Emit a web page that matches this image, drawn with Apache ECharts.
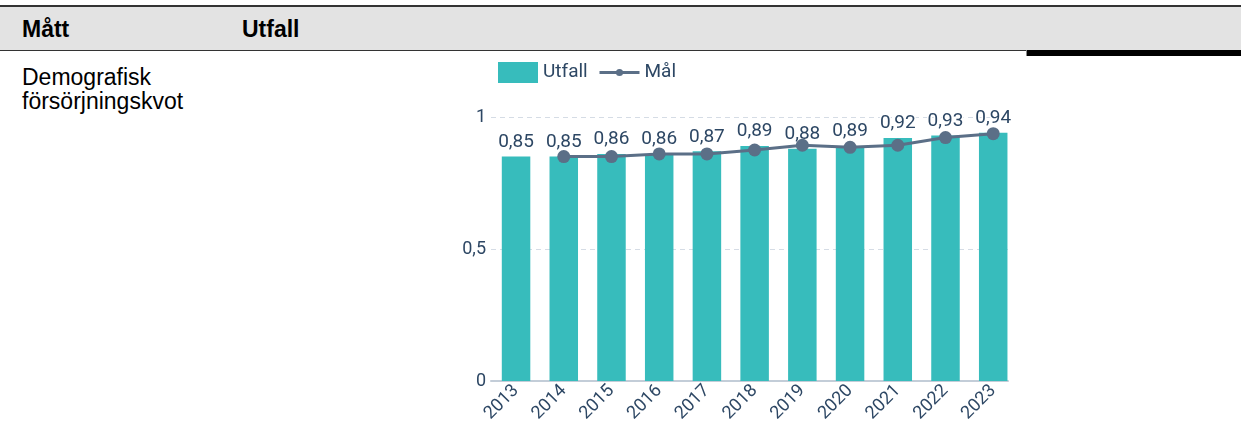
<!DOCTYPE html>
<html lang="sv">
<head>
<meta charset="utf-8">
<title>Demografisk försörjningskvot</title>
<script src="https://cdn.jsdelivr.net/npm/echarts@6/dist/echarts.min.js"></script>
<style>
  html, body { margin: 0; padding: 0; background: #fff; }
  body { width: 1241px; height: 442px; position: relative; overflow: hidden;
         font-family: Arial, "Liberation Sans", sans-serif; color: #000; }
  .abs { position: absolute; }
  .band { top: 7px; left: 0; width: 1241px; height: 43px; background: #e3e3e3; }
  .rule-top { top: 5px; left: 0; width: 1241px; height: 2px; background: #333; }
  .rule-bottom { top: 50px; left: 0; width: 1026px; height: 1px; background: #333; }
  .rule-thick { top: 50px; left: 1027px; width: 214px; height: 6px; background: #000; }
  .rule-tick { top: 50px; left: 1026px; width: 1px; height: 6px; background: #888; }
  .th { top: 17px; font-size: 23px; line-height: 24px; font-weight: bold; }
  .td { top: 65px; left: 22px; font-size: 23px; line-height: 24px; }
  #chart { position: absolute; left: 0; top: 0; width: 1241px; height: 442px; }
</style>
</head>
<body>
<div class="abs band"></div>
<div class="abs rule-top"></div>
<div class="abs rule-bottom"></div>
<div class="abs rule-thick"></div>
<div class="abs rule-tick"></div>
<div class="abs th" style="left:22px">Mått</div>
<div class="abs th" style="left:242px">Utfall</div>
<div class="abs td">Demografisk<br>försörjningskvot</div>
<div id="chart"></div>
<script>
// Years on the x axis
const years = [2013, 2014, 2015, 2016, 2017, 2018, 2019, 2020, 2021, 2022, 2023];
// Outcome per year (bars, labelled)
const utfall = [0.85, 0.85, 0.86, 0.86, 0.87, 0.89, 0.88, 0.89, 0.92, 0.93, 0.94];
// Target per year (line); no target for 2013
const mal = [null, 0.85, 0.85, 0.86, 0.86, 0.875, 0.893, 0.885, 0.893, 0.922, 0.937];
// Y axis tick values
const yTicks = [0, 0.5, 1];

const textColor = '#2d4764';
const lineColor = '#5b6f87';
const font = 'Roboto, sans-serif';
const comma = v => String(v).replace('.', ',');

const chart = echarts.init(document.getElementById('chart'), null, { renderer: 'canvas' });
chart.setOption({
  backgroundColor: 'transparent',
  animation: false,
  textStyle: { fontFamily: font },
  legend: [
    {
      data: [{ name: 'Utfall', icon: 'rect' }],
      left: 498,
      top: 62,
      padding: 0,
      itemWidth: 40,
      itemHeight: 21,
      textStyle: { fontSize: 19, color: textColor, fontFamily: font }
    },
    {
      data: ['Mål'],
      left: 598,
      top: 62,
      padding: 0,
      itemWidth: 40,
      itemHeight: 9,
      lineStyle: { width: 3, color: lineColor },
      itemStyle: { color: lineColor },
      textStyle: { fontSize: 19, color: textColor, fontFamily: font, lineHeight: 21 }
    }
  ],
  grid: { left: 491, right: 233, top: 117, bottom: 61 },
  xAxis: {
    type: 'value',
    min: years[0] - 0.525,
    max: years[years.length - 1] + 0.31,
    axisLine: { show: true, lineStyle: { color: '#c3cdd8', width: 2 } },
    axisTick: { show: false },
    splitLine: { show: false },
    axisLabel: {
      customValues: years,
      rotate: 45,
      margin: 7,
      fontSize: 18,
      color: textColor,
      formatter: v => String(v)
    }
  },
  yAxis: {
    type: 'value',
    min: yTicks[0],
    max: yTicks[yTicks.length - 1],
    interval: 0.5,
    axisLine: { show: false },
    axisTick: { show: false },
    axisLabel: { fontSize: 18, color: textColor, margin: 5, formatter: comma },
    splitLine: { lineStyle: { color: '#d5dce5', type: [5, 4], width: 1 } }
  },
  series: [
    {
      name: 'Utfall',
      type: 'bar',
      data: years.map((y, i) => [y, utfall[i]]),
      barWidth: 28.5,
      itemStyle: { color: '#37bcbc' },
      label: {
        show: true,
        position: 'top',
        distance: 5,
        fontSize: 19,
        color: textColor,
        textBorderColor: '#fff',
        textBorderWidth: 3,
        formatter: p => p.value[1].toFixed(2).replace('.', ',')
      },
      z: 2
    },
    {
      name: 'Mål',
      type: 'line',
      data: years.map((y, i) => [y, mal[i]]),
      symbol: 'circle',
      symbolSize: 13,
      showSymbol: true,
      connectNulls: false,
      lineStyle: { color: lineColor, width: 3 },
      itemStyle: { color: lineColor },
      z: 3
    }
  ]
});
</script>
</body>
</html>
